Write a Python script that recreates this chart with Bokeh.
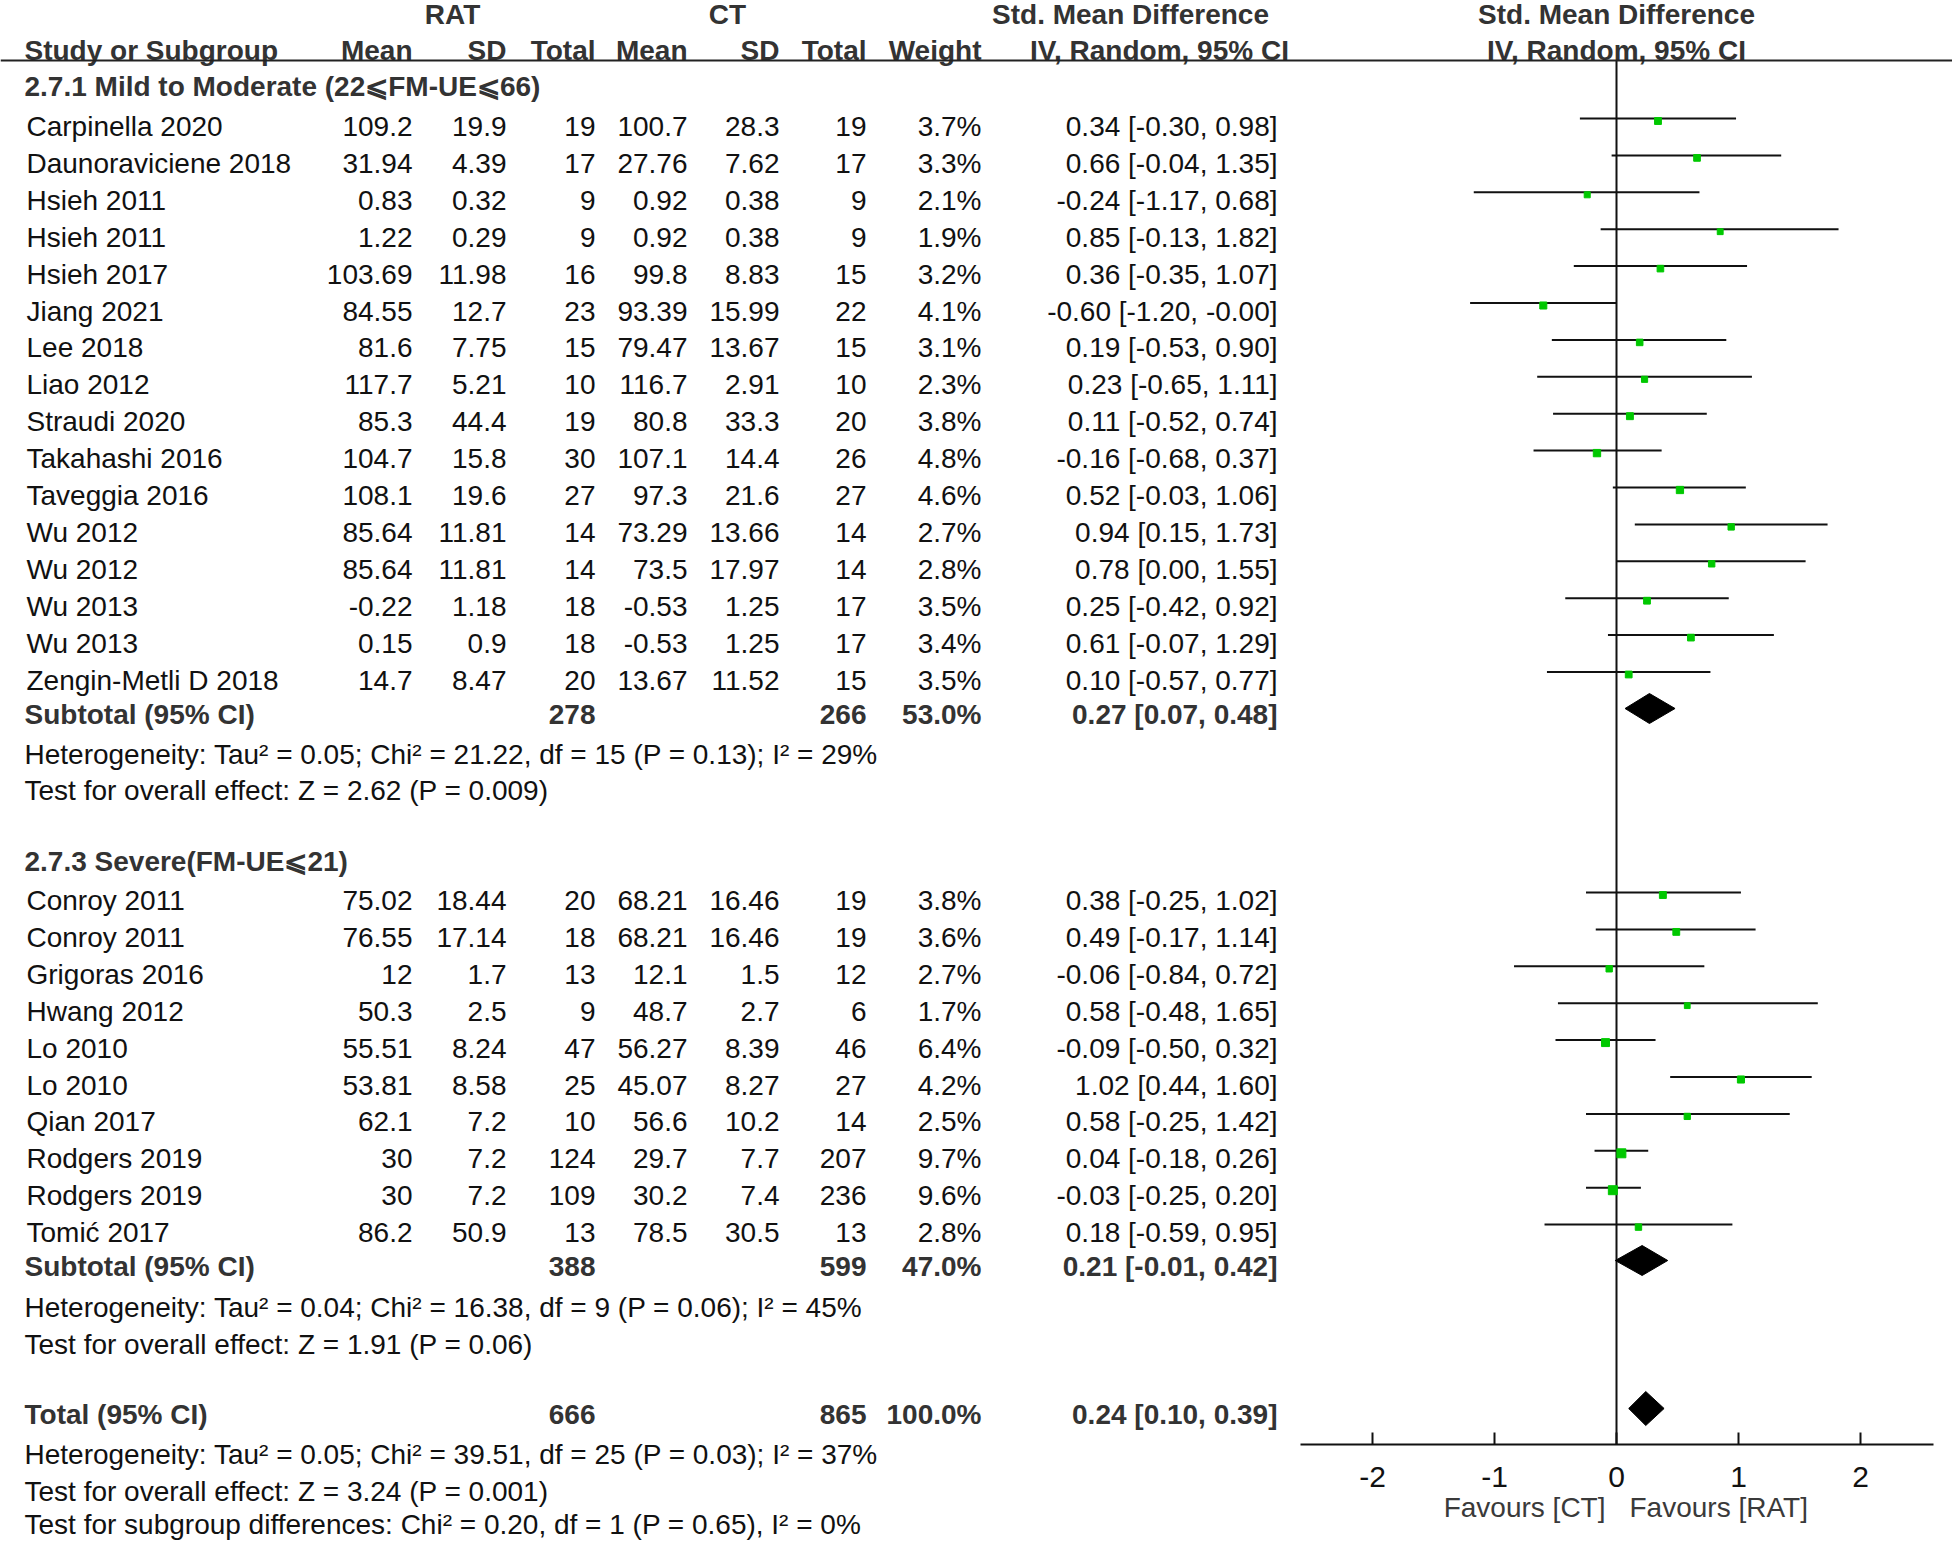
from bokeh.plotting import figure
from bokeh.models import ColumnDataSource, Range1d, Span
from bokeh.core.properties import value
from bokeh.embed import file_html
from bokeh.resources import INLINE

# ---------------- data ----------------
g1_title = "2.7.1 Mild to Moderate (22⩽FM-UE⩽66)"
g1_names = ["Carpinella 2020", "Daunoraviciene 2018", "Hsieh 2011", "Hsieh 2011", "Hsieh 2017",
            "Jiang 2021", "Lee 2018", "Liao 2012", "Straudi 2020", "Takahashi 2016",
            "Taveggia 2016", "Wu 2012", "Wu 2012", "Wu 2013", "Wu 2013", "Zengin-Metli D 2018"]
g1_rat_mean = [109.2, 31.94, 0.83, 1.22, 103.69, 84.55, 81.6, 117.7, 85.3, 104.7, 108.1, 85.64, 85.64, -0.22, 0.15, 14.7]
g1_rat_sd = [19.9, 4.39, 0.32, 0.29, 11.98, 12.7, 7.75, 5.21, 44.4, 15.8, 19.6, 11.81, 11.81, 1.18, 0.9, 8.47]
g1_rat_n = [19, 17, 9, 9, 16, 23, 15, 10, 19, 30, 27, 14, 14, 18, 18, 20]
g1_ct_mean = [100.7, 27.76, 0.92, 0.92, 99.8, 93.39, 79.47, 116.7, 80.8, 107.1, 97.3, 73.29, 73.5, -0.53, -0.53, 13.67]
g1_ct_sd = [28.3, 7.62, 0.38, 0.38, 8.83, 15.99, 13.67, 2.91, 33.3, 14.4, 21.6, 13.66, 17.97, 1.25, 1.25, 11.52]
g1_ct_n = [19, 17, 9, 9, 15, 22, 15, 10, 20, 26, 27, 14, 14, 17, 17, 15]
g1_weight = [3.7, 3.3, 2.1, 1.9, 3.2, 4.1, 3.1, 2.3, 3.8, 4.8, 4.6, 2.7, 2.8, 3.5, 3.4, 3.5]
g1_smd = [0.34, 0.66, -0.24, 0.85, 0.36, -0.60, 0.19, 0.23, 0.11, -0.16, 0.52, 0.94, 0.78, 0.25, 0.61, 0.10]
g1_lo = [-0.30, -0.04, -1.17, -0.13, -0.35, -1.20, -0.53, -0.65, -0.52, -0.68, -0.03, 0.15, 0.00, -0.42, -0.07, -0.57]
g1_hi = [0.98, 1.35, 0.68, 1.82, 1.07, -0.00, 0.90, 1.11, 0.74, 0.37, 1.06, 1.73, 1.55, 0.92, 1.29, 0.77]
g1_sub = dict(n1=278, n2=266, w=53.0, smd=0.27, lo=0.07, hi=0.48)
g1_het = "Heterogeneity: Tau² = 0.05; Chi² = 21.22, df = 15 (P = 0.13); I² = 29%"
g1_test = "Test for overall effect: Z = 2.62 (P = 0.009)"

g2_title = "2.7.3 Severe(FM-UE⩽21)"
g2_names = ["Conroy 2011", "Conroy 2011", "Grigoras 2016", "Hwang 2012", "Lo 2010", "Lo 2010",
            "Qian 2017", "Rodgers 2019", "Rodgers 2019", "Tomić 2017"]
g2_rat_mean = [75.02, 76.55, 12, 50.3, 55.51, 53.81, 62.1, 30, 30, 86.2]
g2_rat_sd = [18.44, 17.14, 1.7, 2.5, 8.24, 8.58, 7.2, 7.2, 7.2, 50.9]
g2_rat_n = [20, 18, 13, 9, 47, 25, 10, 124, 109, 13]
g2_ct_mean = [68.21, 68.21, 12.1, 48.7, 56.27, 45.07, 56.6, 29.7, 30.2, 78.5]
g2_ct_sd = [16.46, 16.46, 1.5, 2.7, 8.39, 8.27, 10.2, 7.7, 7.4, 30.5]
g2_ct_n = [19, 19, 12, 6, 46, 27, 14, 207, 236, 13]
g2_weight = [3.8, 3.6, 2.7, 1.7, 6.4, 4.2, 2.5, 9.7, 9.6, 2.8]
g2_smd = [0.38, 0.49, -0.06, 0.58, -0.09, 1.02, 0.58, 0.04, -0.03, 0.18]
g2_lo = [-0.25, -0.17, -0.84, -0.48, -0.50, 0.44, -0.25, -0.18, -0.25, -0.59]
g2_hi = [1.02, 1.14, 0.72, 1.65, 0.32, 1.60, 1.42, 0.26, 0.20, 0.95]
g2_sub = dict(n1=388, n2=599, w=47.0, smd=0.21, lo=-0.01, hi=0.42)
g2_het = "Heterogeneity: Tau² = 0.04; Chi² = 16.38, df = 9 (P = 0.06); I² = 45%"
g2_test = "Test for overall effect: Z = 1.91 (P = 0.06)"

tot = dict(n1=666, n2=865, w=100.0, smd=0.24, lo=0.10, hi=0.39)
tot_het = "Heterogeneity: Tau² = 0.05; Chi² = 39.51, df = 25 (P = 0.03); I² = 37%"
tot_test = "Test for overall effect: Z = 3.24 (P = 0.001)"
tot_sub = "Test for subgroup differences: Chi² = 0.20, df = 1 (P = 0.65), I² = 0%"

x_ticks = [-2, -1, 0, 1, 2]
favours_left = "Favours [CT]"
favours_right = "Favours [RAT]"

# ---------------- layout (reference pixel space) ----------------
FONT = value("Liberation Sans")
FS = "28px"
TXT = "#111111"
BOLD = "#333333"
ROW = 36.9
LINE_UP = 8       # CI lines sit slightly above the text centre line

y_h1, y_h2, y_line = 14, 50, 60
y_g1 = 86
y_s1 = [126 + i * ROW for i in range(len(g1_names))]
y_sub1 = 714
y_het1, y_test1 = 754, 790
y_g2 = 861
y_s2 = [900 + i * ROW for i in range(len(g2_names))]
y_sub2 = 1266
y_het2, y_test2 = 1307, 1344
y_tot = 1414
y_toth, y_tott, y_totsub = 1454, 1491, 1524
y_axis, y_ticklab, y_fav = 1444, 1476, 1507

X_NAME, X_TXT = 26, 24
cols = dict(m1=412, s1=506, n1=595, m2=687, s2=779, n2=866, w=981, ci=1277)

PX = 122.0       # px per SMD unit in the forest panel
X0 = 1616.0      # reference x of SMD = 0
W, H = 1952, 1540

p = figure(width=W, height=H, x_range=Range1d(0, W), y_range=Range1d(H, 0),
           output_backend="svg", toolbar_location=None, min_border=0,
           x_axis_location=None, y_axis_location=None)
p.grid.visible = False
p.outline_line_color = None
p.extra_x_ranges = {"smd": Range1d((0 - X0) / PX, (W - X0) / PX)}


def fnum(v):
    return f"{v:g}"


def fci(e, lo, hi):
    return f"{e:.2f} [{lo:.2f}, {hi:.2f}]"


def put(xs, ys, texts, align="right", bold=False, color=None, rng="default", xoff=0, size=FS):
    src = ColumnDataSource(dict(x=list(xs), y=list(ys), t=list(texts)))
    p.text(x="x", y="y", text="t", source=src, text_align=align, text_baseline="middle",
           text_font=FONT, text_font_size=size, x_offset=xoff,
           text_font_style="bold" if bold else "normal",
           text_color=color or (BOLD if bold else TXT), x_range_name=rng)


# header
put([452, 727, 1130], [y_h1] * 3, ["RAT", "CT", "Std. Mean Difference"], "center", True)
put([X_TXT], [y_h2], ["Study or Subgroup"], "left", True)
put([cols[k] for k in ["m1", "s1", "n1", "m2", "s2", "n2", "w"]], [y_h2] * 7,
    ["Mean", "SD", "Total", "Mean", "SD", "Total", "Weight"], "right", True)
put([1159], [y_h2], ["IV, Random, 95% CI"], "center", True)
p.add_layout(Span(location=y_line, dimension="width", line_color="#222222", line_width=2))


def study_block(ys, names, m1, s1, n1, m2, s2, n2, w, e, lo, hi):
    k = len(names)
    put([X_NAME] * k, ys, names, "left")
    put([cols["m1"]] * k, ys, [fnum(v) for v in m1])
    put([cols["s1"]] * k, ys, [fnum(v) for v in s1])
    put([cols["n1"]] * k, ys, [str(v) for v in n1])
    put([cols["m2"]] * k, ys, [fnum(v) for v in m2])
    put([cols["s2"]] * k, ys, [fnum(v) for v in s2])
    put([cols["n2"]] * k, ys, [str(v) for v in n2])
    put([cols["w"]] * k, ys, [f"{v:.1f}%" for v in w])
    put([cols["ci"]] * k, ys, [fci(a, b, c) for a, b, c in zip(e, lo, hi)])


def summary_row(y, label, d):
    put([X_TXT], [y], [label], "left", True)
    put([cols["n1"], cols["n2"], cols["w"], cols["ci"]], [y] * 4,
        [str(d["n1"]), str(d["n2"]), f"{d['w']:.1f}%", fci(d["smd"], d["lo"], d["hi"])], "right", True)


put([X_TXT], [y_g1], [g1_title], "left", True)
study_block(y_s1, g1_names, g1_rat_mean, g1_rat_sd, g1_rat_n, g1_ct_mean, g1_ct_sd, g1_ct_n,
            g1_weight, g1_smd, g1_lo, g1_hi)
summary_row(y_sub1, "Subtotal (95% CI)", g1_sub)
put([X_TXT] * 2, [y_het1, y_test1], [g1_het, g1_test], "left")

put([X_TXT], [y_g2], [g2_title], "left", True)
study_block(y_s2, g2_names, g2_rat_mean, g2_rat_sd, g2_rat_n, g2_ct_mean, g2_ct_sd, g2_ct_n,
            g2_weight, g2_smd, g2_lo, g2_hi)
summary_row(y_sub2, "Subtotal (95% CI)", g2_sub)
put([X_TXT] * 2, [y_het2, y_test2], [g2_het, g2_test], "left")

summary_row(y_tot, "Total (95% CI)", tot)
put([X_TXT] * 3, [y_toth, y_tott, y_totsub], [tot_het, tot_test, tot_sub], "left")

# ---------------- forest panel (SMD scale) ----------------
put([0, 0], [y_h1, y_h2], ["Std. Mean Difference", "IV, Random, 95% CI"], "center", True, rng="smd")

# zero line
p.segment(x0=[0], y0=[y_line], x1=[0], y1=[y_axis], line_color="#111111", line_width=2,
          x_range_name="smd")

# x axis (line, ticks, labels) drawn on the SMD scale
ax_lo, ax_hi = (1300 - X0) / PX, (1933 - X0) / PX
p.segment(x0=[ax_lo], y0=[y_axis], x1=[ax_hi], y1=[y_axis], line_color="#111111", line_width=2,
          x_range_name="smd")
p.segment(x0=x_ticks, y0=[y_axis] * len(x_ticks), x1=x_ticks, y1=[y_axis - 12] * len(x_ticks),
          line_color="#111111", line_width=2, x_range_name="smd")
put(x_ticks, [y_ticklab] * len(x_ticks), [f"{t:g}" for t in x_ticks], "center", rng="smd", size="30px")
put([0], [y_fav], [favours_left], "right", color="#3a3a3a", rng="smd", xoff=-11)
put([0], [y_fav], [favours_right], "left", color="#3a3a3a", rng="smd", xoff=13)

all_y = [v - LINE_UP for v in list(y_s1) + list(y_s2)]
all_e = g1_smd + g2_smd
all_lo = g1_lo + g2_lo
all_hi = g1_hi + g2_hi
all_w = g1_weight + g2_weight
src = ColumnDataSource(dict(y=all_y, ym=[v + 2.5 for v in all_y], e=all_e, lo=all_lo, hi=all_hi,
                            s=[3.4 + 1.8 * (w ** 0.5) for w in all_w]))
p.segment(x0="lo", y0="y", x1="hi", y1="y", source=src, line_color="#111111", line_width=2,
          x_range_name="smd")
p.scatter(x="e", y="ym", size="s", marker="square", source=src,
          fill_color="#00c800", line_color="#00c800", x_range_name="smd")

dxs, dys = [], []
for d, yy, hh in [(g1_sub, y_sub1 - 6, 15), (g2_sub, y_sub2 - 6, 15), (tot, y_tot - 6, 17)]:
    dxs.append([d["lo"], d["smd"], d["hi"], d["smd"]])
    dys.append([yy, yy - hh, yy, yy + hh])
p.patches(xs=dxs, ys=dys, fill_color="black", line_color="black", x_range_name="smd")

open("out.html", "w").write(file_html(p, INLINE))
